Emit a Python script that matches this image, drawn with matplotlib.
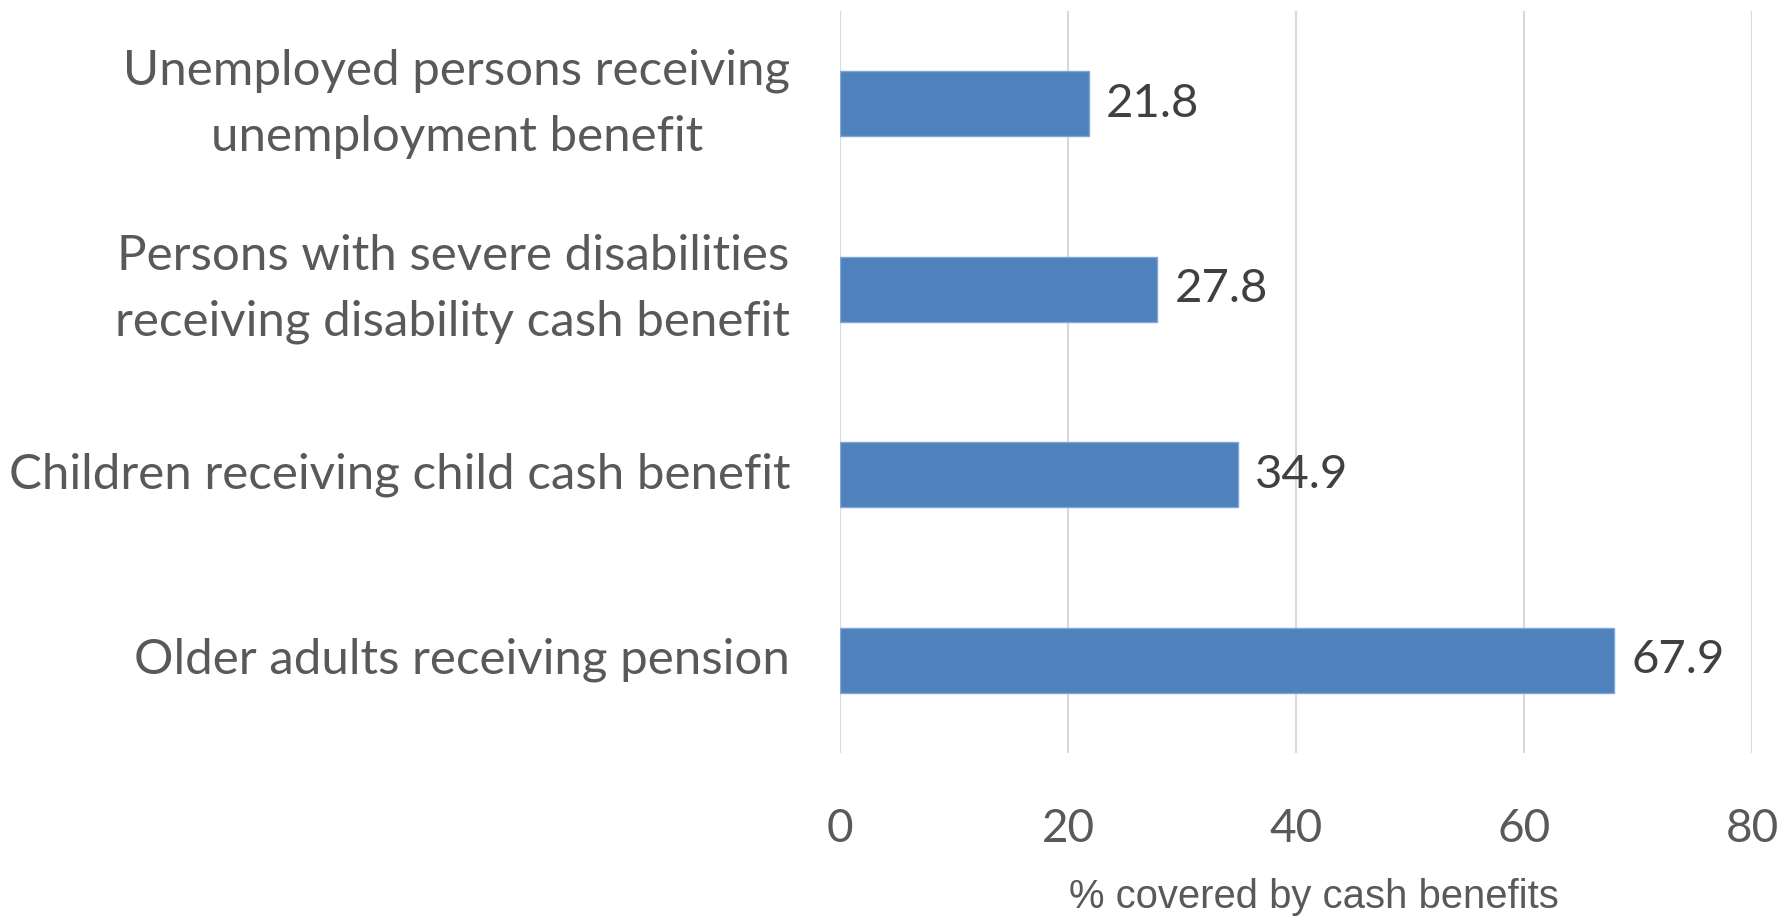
import matplotlib.pyplot as plt

categories = ['Older adults receiving pension',
              'Children receiving child cash benefit',
              'Persons with severe disabilities\nreceiving disability cash benefit',
              'Unemployed persons receiving\nunemployment benefit']
values = [67.9, 34.9, 27.8, 21.8]
xticks = [0, 20, 40, 60, 80]

fig = plt.figure(figsize=(17.88, 9.17), dpi=100)
ax = fig.add_axes([0.470, 0.179, 0.510, 0.809])

ypos = list(range(len(categories)))
ax.barh(ypos, values, height=0.35, color='#4F81BD', edgecolor='#7EA6D6', linewidth=1, zorder=3)
for y, v in zip(ypos, values):
    ax.text(v + 1.5, y, f'{v:.1f}', va='center', ha='left', fontsize=34,
            family='Lato', color='#404040')

ax.set_ylim(-0.5, 3.5)
ax.set_xlim(0, 80)
ax.set_xticks(xticks)
ax.set_yticks(ypos)
ax.set_yticklabels(categories, family='Lato', fontsize=35.5, color='#595959',
                   ha='right', va='center', multialignment='center', linespacing=1.6)
ax.tick_params(axis='y', length=0, pad=36)
ax.tick_params(axis='x', length=0, pad=40, labelsize=33, labelcolor='#595959')
for lab in ax.get_xticklabels():
    lab.set_family('Lato')
ax.grid(axis='x', color='#D9D9D9', linewidth=1.5, zorder=0)
for s in ax.spines.values():
    s.set_visible(False)
ax.set_xlabel('% covered by cash benefits', family='Liberation Sans', fontsize=28.8,
              color='#595959', labelpad=20)
ax.xaxis.label.set_x(0.519)

fig.savefig('out.png', dpi=100)
